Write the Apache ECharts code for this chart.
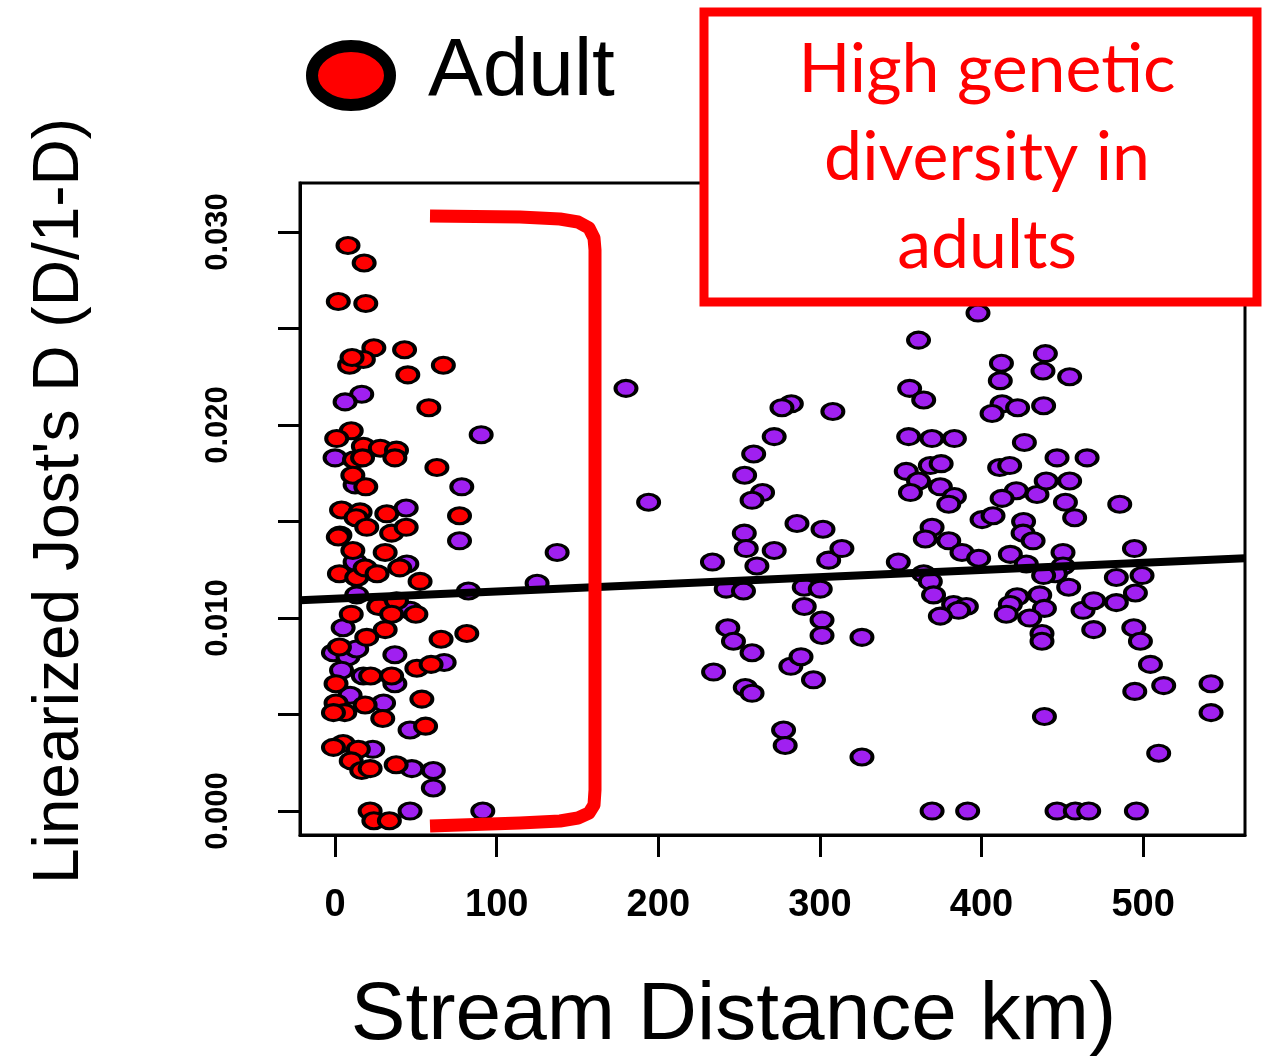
<!DOCTYPE html>
<html lang="en">
<head>
<meta charset="UTF-8">
<title>Linearized Jost's D vs stream distance</title>
<script src="https://cdn.jsdelivr.net/npm/echarts@6/dist/echarts.min.js"></script>
<style>
    html, body { margin: 0; padding: 0; background: #fff; }
    #chart { width: 1263px; height: 1056px; }
</style>
</head>
<body>
<div id="chart"></div>
<script type="text/javascript">
    // adult pairs: [stream distance km, linearized D]
    const adultPts = [
        [8, 0.0293], [18, 0.0284], [2, 0.0264], [19, 0.0263], [24, 0.0240], [43, 0.0239], [9, 0.0231],
        [17.5, 0.0234], [10.5, 0.0235], [45, 0.0226], [67, 0.0231], [58, 0.0209], [10, 0.0197], [1, 0.0193],
        [17.5, 0.0189], [28, 0.0188], [38, 0.0187], [37, 0.0183], [12, 0.0182], [17, 0.0183], [63, 0.0178],
        [11, 0.0174], [19, 0.0168], [4, 0.0156], [15.5, 0.0155], [13, 0.0152], [32, 0.0154], [77, 0.0153],
        [3, 0.0143], [2, 0.0142], [19.6, 0.0147], [35, 0.0144], [44, 0.0147], [11, 0.0135], [31, 0.0134],
        [2.7, 0.0123], [13.4, 0.0121], [18.6, 0.0126], [26, 0.0123], [40, 0.0126], [52.6, 0.0119],
        [27, 0.0106], [38, 0.0109], [10, 0.0102], [35, 0.0102], [50, 0.0102], [31, 0.0094], [19.6, 0.0090],
        [65.6, 0.0089], [81.5, 0.0092], [2.7, 0.0085], [50.6, 0.0074], [59.4, 0.0076], [22, 0.0070],
        [35, 0.0070], [0.6, 0.0066], [53.7, 0.0058], [0.6, 0.0056], [6, 0.0051], [18.6, 0.0055],
        [29.5, 0.0048], [-1, 0.0051], [56, 0.0044], [5, 0.0035], [-1, 0.0033], [14.4, 0.0032], [10, 0.0026],
        [16.5, 0.0021], [21.7, 0.0022], [37.8, 0.0024], [21.7, 0.0000], [24, -0.0005], [33.6, -0.0005]
    ];
    // purple pairs
    const otherPts = [
        [16.5, 0.0216], [6.2, 0.0212], [90.4, 0.0195], [0, 0.0183], [12.4, 0.0169], [78.4, 0.0168],
        [44, 0.0157], [77, 0.0140], [12.4, 0.0129], [44.4, 0.0128], [13.4, 0.0112], [82.5, 0.0114],
        [46.4, 0.0104], [5, 0.0095], [-1, 0.0082], [8, 0.0080], [13.4, 0.0084], [37, 0.0081], [67.5, 0.0077],
        [4, 0.0073], [17.5, 0.0070], [37, 0.0066], [9.3, 0.0060], [30, 0.0056], [46.4, 0.0042],
        [23.3, 0.0032], [47.5, 0.0022], [60.8, 0.0021], [60.8, 0.0012], [46.4, 0.0000], [91.4, 0.0000],
        [125, 0.0118], [137.4, 0.0134], [180, 0.0219], [194, 0.0160],
        [282.3, 0.0211], [276.5, 0.0209], [308, 0.0207], [271.7, 0.0194], [259, 0.0185], [253.4, 0.0174],
        [264.5, 0.0165], [258, 0.0161], [285.8, 0.0149], [301.9, 0.0146], [253.2, 0.0144], [254.4, 0.0136],
        [271.7, 0.0135], [261, 0.0127], [233.5, 0.0129], [305.4, 0.0130], [313.6, 0.0136], [348.5, 0.0129],
        [242, 0.0115], [252.7, 0.0114], [290.3, 0.0116], [300.2, 0.0115], [290.3, 0.0106], [301.3, 0.0099],
        [301.3, 0.0091], [326, 0.0090], [243, 0.0095], [246.5, 0.0088], [258, 0.0082], [234.2, 0.0072],
        [282, 0.0075], [288.3, 0.0080], [296, 0.0068], [253.8, 0.0064], [258, 0.0061], [277.5, 0.0042],
        [278.5, 0.0034], [326, 0.0028],
        [397.8, 0.0258], [361, 0.0244], [412.3, 0.0232], [411.6, 0.0223], [439.5, 0.0237], [438, 0.0228],
        [454.5, 0.0225], [355.5, 0.0219], [364.2, 0.0213], [412.7, 0.0211], [406.5, 0.0206], [422.3, 0.0209],
        [438.4, 0.0210], [354.9, 0.0194], [369.3, 0.0193], [383.2, 0.0193], [426.5, 0.0191], [446.7, 0.0183],
        [465.3, 0.0183], [353.4, 0.0176], [368.3, 0.0179], [375, 0.0180], [411.2, 0.0178], [417.4, 0.0179],
        [361, 0.0171], [356, 0.0165], [374.5, 0.0168], [383.2, 0.0163], [379.7, 0.0159], [421.5, 0.0166],
        [412.7, 0.0162], [434.3, 0.0164], [440, 0.0171], [454.5, 0.0171], [451.9, 0.0160], [457.6, 0.0152],
        [400.3, 0.0151], [407.1, 0.0153], [426, 0.0150], [425.7, 0.0144], [369.4, 0.0147], [365.2, 0.0141],
        [379.7, 0.0140], [431.9, 0.0140], [387.9, 0.0134], [398.2, 0.0131], [417.8, 0.0133], [427.7, 0.0128],
        [450.4, 0.0134], [450.4, 0.0127], [445.7, 0.0123], [438.4, 0.0122], [364.2, 0.0123], [368.3, 0.0119],
        [370.3, 0.0112], [382.7, 0.0107], [390.6, 0.0106], [385.8, 0.0104], [374.5, 0.0101], [422, 0.0111],
        [417.8, 0.0107], [415.3, 0.0102], [436, 0.0112], [438.9, 0.0105], [429.8, 0.0100], [453.9, 0.0116],
        [462.8, 0.0104], [469.4, 0.0109], [469.4, 0.0094], [437.4, 0.0092], [437.4, 0.0088], [438.9, 0.0049],
        [369.4, 0], [391.4, 0], [446.7, 0], [458, 0], [466.3, 0],
        [485.5, 0.0159], [494.6, 0.0136], [483.4, 0.0121], [499.3, 0.0122], [483.4, 0.0108], [495.2, 0.0113],
        [494.2, 0.0095], [498.3, 0.0088], [504.5, 0.0076], [512.7, 0.0065], [494.8, 0.0062], [542, 0.0066],
        [542, 0.0051], [509.6, 0.0030], [495.8, 0]
    ];
    // fitted line D = fitIntercept + fitSlope * km
    const fitIntercept = 0.0110;
    const fitSlope = 0.00000372;

    const xTicks = [0, 100, 200, 300, 400, 500];
    const yTicks = [0, 0.005, 0.010, 0.015, 0.020, 0.025, 0.030];
    const yLabels = [0, 0.010, 0.020, 0.030];
    const xMin = -21.7, xMax = 563;
    const yMin = -0.00124, yMax = 0.03254;

    const font = 'Liberation Sans';
    const ellipse = 'path://M50,0A50,50,0,1,1,50,100A50,50,0,1,1,50,0Z';

    let chart = echarts.init(document.getElementById('chart'));

    let fitLine = [
        [xMin, fitIntercept + fitSlope * xMin],
        [xMax, fitIntercept + fitSlope * xMax]
    ];

    let option = {
        animation: false,
        backgroundColor: '#fff',
        grid: {
            left: 300,
            right: 18,
            top: 183,
            bottom: 221,
            show: true,
            borderColor: '#000',
            borderWidth: 3,
            outerBoundsMode: 'none'
        },
        xAxis: {
            type: 'value',
            min: xMin,
            max: xMax,
            name: 'Stream Distance km)',
            nameLocation: 'middle',
            nameGap: 140,
            nameMoveOverlap: false,
            nameTextStyle: {
                fontFamily: font,
                fontSize: 82,
                color: '#000',
                padding: [0, 78, 0, 0]
            },
            axisLine: {show: true, onZero: false, lineStyle: {color: '#000', width: 3}},
            axisTick: {show: true, length: 22, lineStyle: {color: '#000', width: 3}, customValues: xTicks},
            axisLabel: {
                customValues: xTicks,
                margin: 52,
                fontFamily: font,
                fontSize: 38,
                fontWeight: 'bold',
                color: '#000'
            },
            splitLine: {show: false}
        },
        yAxis: {
            type: 'value',
            min: yMin,
            max: yMax,
            name: "Linearized Jost's D (D/1-D)",
            nameLocation: 'middle',
            nameRotate: 90,
            nameGap: 208,
            nameMoveOverlap: false,
            nameTextStyle: {
                fontFamily: font,
                fontSize: 64,
                color: '#000',
                padding: [0, 0, 0, 16]
            },
            axisLine: {show: true, onZero: false, lineStyle: {color: '#000', width: 3}},
            axisTick: {show: true, length: 22, lineStyle: {color: '#000', width: 3}, customValues: yTicks},
            axisLabel: {
                customValues: yLabels,
                rotate: 90,
                margin: 66,
                fontFamily: font,
                fontSize: 31,
                fontWeight: 'bold',
                color: '#000',
                formatter: function (v) {
                    return v.toFixed(3);
                }
            },
            splitLine: {show: false}
        },
        series: [
            {
                name: 'other',
                type: 'scatter',
                symbol: ellipse,
                symbolSize: [21, 16],
                itemStyle: {color: '#a020f0', borderColor: '#000', borderWidth: 3.5, opacity: 1},
                data: otherPts,
                z: 2
            },
            {
                name: 'Adult',
                type: 'scatter',
                symbol: ellipse,
                symbolSize: [21, 16],
                itemStyle: {color: '#ff0000', borderColor: '#000', borderWidth: 3.5, opacity: 1},
                data: adultPts,
                z: 3
            },
            {
                name: 'fit',
                type: 'line',
                symbol: 'none',
                lineStyle: {color: '#000', width: 8},
                data: fitLine,
                z: 4
            }
        ],
        graphic: [
            // legend key
            {
                type: 'ellipse',
                shape: {cx: 351, cy: 75.5, rx: 39, ry: 29.5},
                style: {fill: '#ff0000', stroke: '#000', lineWidth: 12}
            },
            {
                type: 'text',
                x: 428,
                y: 72,
                style: {
                    text: 'Adult', fontFamily: font, fontSize: 82, fill: '#000',
                    verticalAlign: 'middle', textVerticalAlign: 'middle'
                }
            },
            // red bracket
            {
                type: 'polyline',
                z: 100,
                shape: {
                    points: [[430, 216], [520, 217], [560, 219], [578, 222], [589, 228], [594, 238], [595, 250],
                        [595, 790], [594, 805], [589, 813], [578, 818], [560, 821], [520, 823], [430, 826]]
                },
                style: {stroke: '#ff0000', lineWidth: 13, fill: null, lineJoin: 'round'}
            },
            // annotation box
            {
                type: 'rect',
                z: 100,
                shape: {x: 704, y: 12, width: 553, height: 290},
                style: {fill: '#fff', stroke: '#ff0000', lineWidth: 9}
            },
            {
                type: 'text',
                z: 101,
                x: 987,
                y: 158,
                style: {
                    text: 'High genetic\ndiversity in\nadults',
                    fontFamily: 'Lato', fontSize: 68, fill: '#ff0000', lineHeight: 88,
                    align: 'center', textAlign: 'center',
                    verticalAlign: 'middle', textVerticalAlign: 'middle'
                }
            }
        ]
    };

    chart.setOption(option);
</script>
</body>
</html>
